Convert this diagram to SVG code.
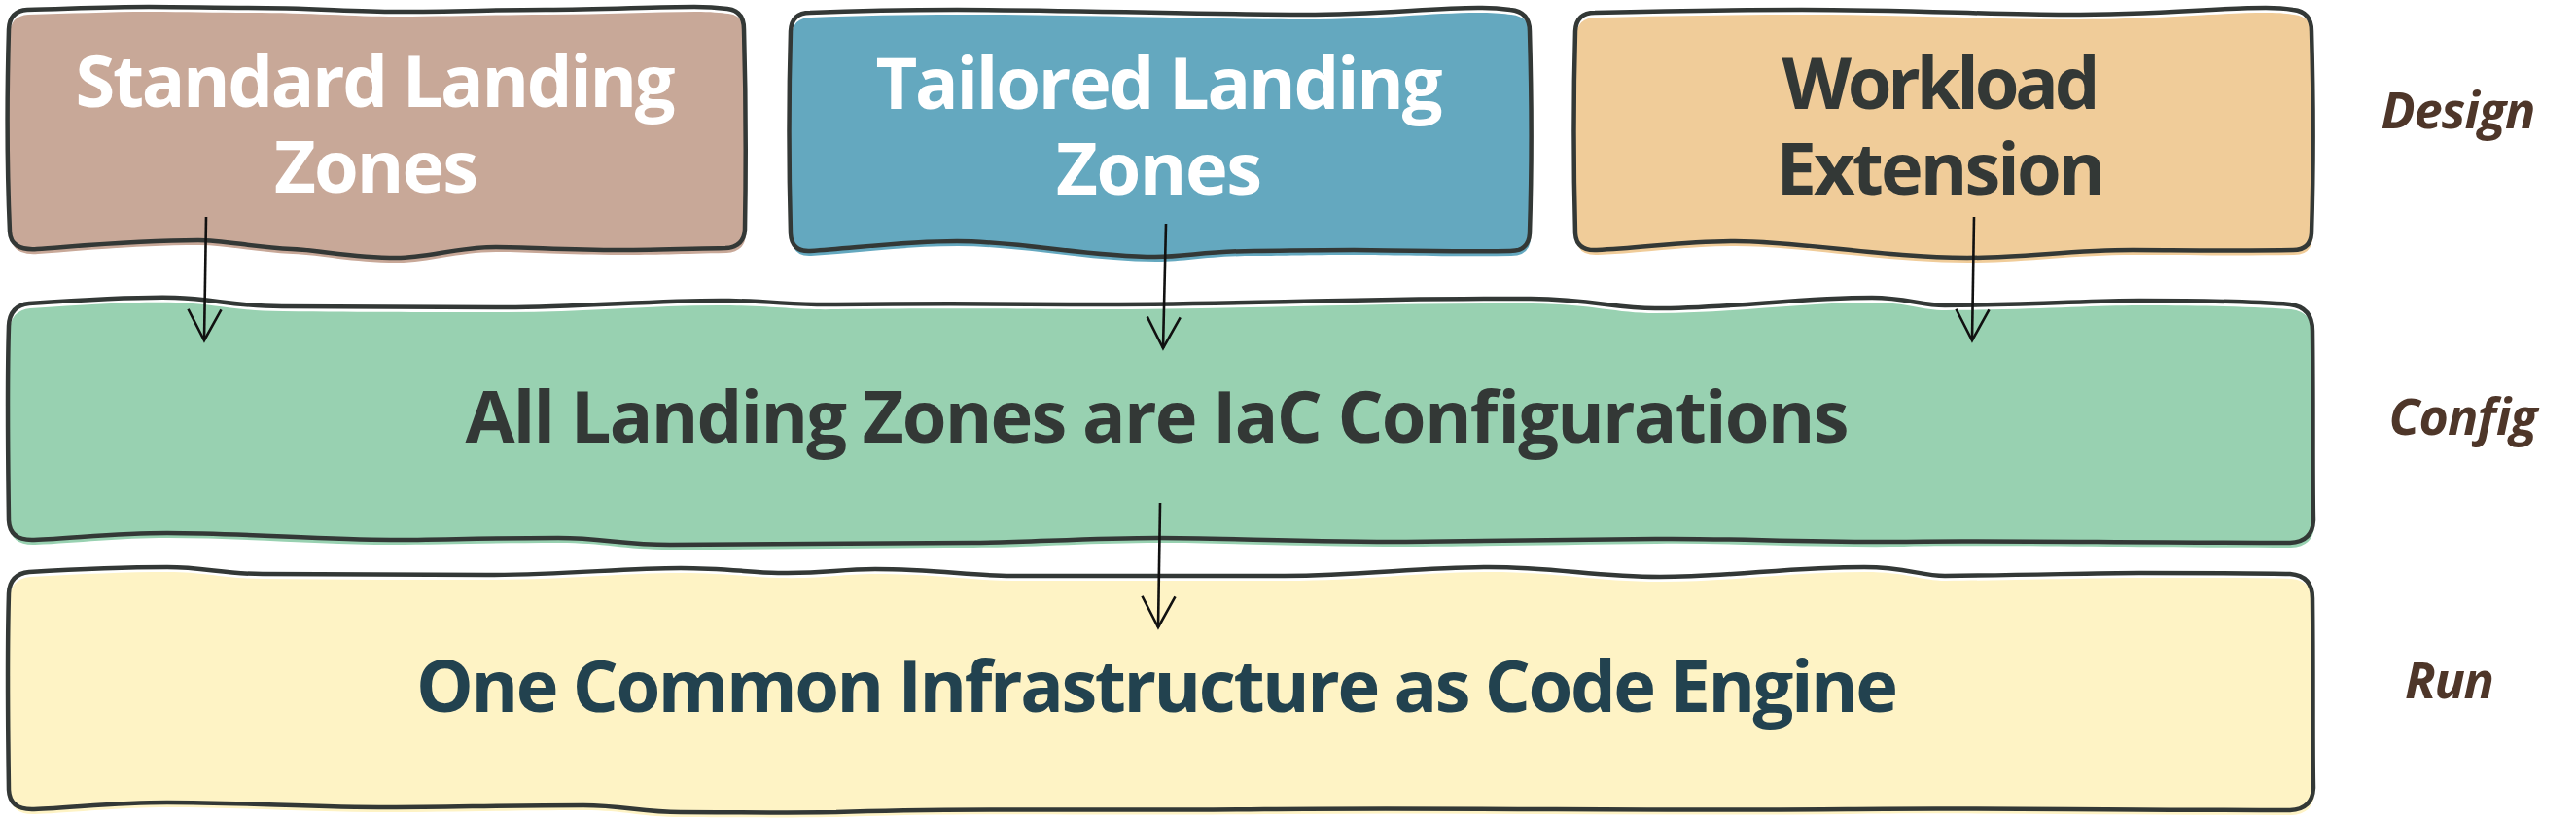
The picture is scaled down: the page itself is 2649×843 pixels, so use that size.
<svg xmlns="http://www.w3.org/2000/svg" xmlns:xlink="http://www.w3.org/1999/xlink" width="2649" height="843" viewBox="0 0 2649 843">
  <style>
    .outline { fill: none; stroke: #333836; stroke-width: 4.5; stroke-linejoin: round; }
    .t { font-family: "Open Sans", "Noto Sans", "Liberation Sans", sans-serif; font-weight: 700; font-size: 74px; text-anchor: middle; }
    .lbl { font-family: "Open Sans", "Noto Sans", "Liberation Sans", sans-serif; font-weight: 700; font-style: italic; font-size: 52px; fill: #4E3629; text-anchor: middle; }
    .conn { stroke: #111111; stroke-width: 2.6; fill: none; marker-end: url(#arrow); }
  </style>
  <defs>
    <marker id="arrow" markerUnits="userSpaceOnUse" markerWidth="40" markerHeight="40" viewBox="-36 -20 40 40" refX="0" refY="0" orient="auto">
      <path d="M -32,-17 L 0,0 L -32,17" fill="none" stroke="#111111" stroke-width="2.6" stroke-linejoin="miter"/>
    </marker>
    <path id="p1" d="M 28,10 C 70,9 110,7 153,7 C 190,7 220,8 255,8 C 320,8 360,12 408,12 C 470,12 510,10 561,10 C 620,10 670,7 714,7 C 730,7 740,8 748,9 Q 765,11 765,30 C 767,100 767,180 766,236 Q 765,254 746,255 C 700,256 670,257 638,257 C 580,257 545,254 510,254 C 470,254 440,265 408,265 C 360,265 330,257 300,256 C 260,254 230,247 204,247 C 140,247 80,253 38,256 Q 11,258 10,238 C 7,170 7,100 9,30 Q 10,11 28,10 Z"/>
    <path id="p2" d="M 833,13 C 880,11 930,10 984,10 C 1100,10 1250,15 1341,15 C 1420,15 1470,8 1520,8 C 1535,8 1545,9 1553,10 Q 1573,12 1573,32 C 1575,100 1575,180 1573,240 Q 1572,258 1553,258 C 1480,259 1420,257 1392,257 C 1340,257 1320,258 1290,258 C 1240,258 1220,264 1188,264 C 1120,264 1050,248 984,248 C 930,248 880,255 833,258 Q 814,259 813,240 C 811,170 811,100 813,32 Q 814,13 833,13 Z"/>
    <path id="p3" d="M 1640,13 C 1720,11 1790,10 1853,10 C 1960,10 2050,15 2125,15 C 2220,15 2280,8 2330,8 C 2345,8 2352,9 2358,10 Q 2377,12 2377,32 C 2379,100 2379,180 2377,240 Q 2376,257 2358,257 C 2300,258 2230,257 2193,257 C 2130,257 2080,265 2023,265 C 1940,265 1850,248 1784,248 C 1730,248 1690,255 1642,257 Q 1621,258 1620,240 C 1618,170 1618,100 1620,32 Q 1621,13 1640,13 Z"/>
    <path id="p4" d="M 30,312 C 90,308 140,305 180,306 C 220,307 240,315 290,315 C 380,316 460,316 520,316 C 600,316 680,308 750,309 C 800,310 820,314 860,313 C 950,312 1000,312 1100,313 C 1250,314 1400,306 1574,307 C 1640,308 1660,317 1702,317 C 1780,317 1850,306 1925,306 C 1960,306 1975,314 2000,314 C 2100,313 2150,309 2200,309 C 2280,309 2330,311 2355,313 Q 2378,316 2378,340 C 2379,420 2378,480 2379,535 Q 2378,557 2355,558 C 2200,558 2000,555 1957,557 C 1850,558 1780,553 1702,554 C 1600,555 1500,557 1446,557 C 1350,557 1250,553 1191,553 C 1120,553 1050,558 1000,558 C 900,558 780,560 689,560 C 640,560 620,553 574,553 C 500,553 450,555 402,555 C 330,555 250,548 172,548 C 120,548 80,553 35,555 Q 10,556 9,535 C 8,460 7,400 9,335 Q 10,314 30,312 Z"/>
    <path id="p5" d="M 30,588 C 80,585 130,583 172,583 C 210,583 230,590 270,590 C 350,591 430,591 500,591 C 580,591 640,584 700,584 C 740,584 770,588 800,589 C 850,590 860,585 900,585 C 960,585 1000,592 1040,592 C 1140,592 1220,592 1321,592 C 1400,592 1460,583 1531,583 C 1600,583 1640,593 1707,593 C 1780,593 1840,583 1917,583 C 1960,583 1975,592 2000,592 C 2100,591 2150,589 2200,589 C 2280,589 2330,589 2355,590 Q 2378,592 2378,615 C 2379,700 2378,760 2379,810 Q 2378,832 2355,833 C 2200,833 2000,830 1900,832 C 1700,834 1500,830 1300,832 C 1100,834 1000,830 860,835 C 780,836 740,835 700,835 C 660,835 640,828 600,828 C 520,828 460,830 400,830 C 320,830 250,825 172,825 C 120,825 80,830 35,832 Q 10,833 9,812 C 8,740 7,680 9,610 Q 10,590 30,588 Z"/>
  </defs>

  <g id="standard-landing-zones">
    <use xlink:href="#p1" href="#p1" fill="#C8A898" transform="translate(1,5)"/>
    <use xlink:href="#p1" href="#p1" class="outline"/>
    <text class="t" fill="#FFFFFF"><tspan x="386" y="110" textLength="617">Standard Landing</tspan><tspan x="387" y="198" textLength="210">Zones</tspan></text>
  </g>

  <g id="tailored-landing-zones">
    <use xlink:href="#p2" href="#p2" fill="#64A8BF" transform="translate(1,5)"/>
    <use xlink:href="#p2" href="#p2" class="outline"/>
    <text class="t" fill="#FFFFFF"><tspan x="1192" y="112" textLength="583">Tailored Landing</tspan><tspan x="1192" y="200" textLength="212">Zones</tspan></text>
  </g>

  <g id="workload-extension">
    <use xlink:href="#p3" href="#p3" fill="#F0CC99" transform="translate(1,5)"/>
    <use xlink:href="#p3" href="#p3" class="outline"/>
    <text class="t" fill="#333836"><tspan x="1996" y="112" textLength="327">Workload</tspan><tspan x="1996" y="200" textLength="339">Extension</tspan></text>
  </g>

  <g id="iac-configurations">
    <use xlink:href="#p4" href="#p4" fill="#98D1B1" transform="translate(1,5)"/>
    <use xlink:href="#p4" href="#p4" class="outline"/>
    <text class="t" fill="#333836" x="1190" y="455" textLength="1423">All Landing Zones are IaC Configurations</text>
  </g>

  <g id="iac-engine">
    <use xlink:href="#p5" href="#p5" fill="#FEF3C5" transform="translate(1,5)"/>
    <use xlink:href="#p5" href="#p5" class="outline"/>
    <text class="t" fill="#22424F" x="1190" y="732" textLength="1524">One Common Infrastructure as Code Engine</text>
  </g>

  <g id="layer-labels">
    <text class="lbl" x="2528" y="132" textLength="159">Design</text>
    <text class="lbl" x="2533" y="447" textLength="153">Config</text>
    <text class="lbl" x="2519" y="718" textLength="92">Run</text>
  </g>

  <g id="connectors">
    <path class="conn" d="M 212,223 L 210,350"/>
    <path class="conn" d="M 1199,230 L 1196,358"/>
    <path class="conn" d="M 2030,223 L 2028,350"/>
    <path class="conn" d="M 1193,517 L 1191,645"/>
  </g>
</svg>
